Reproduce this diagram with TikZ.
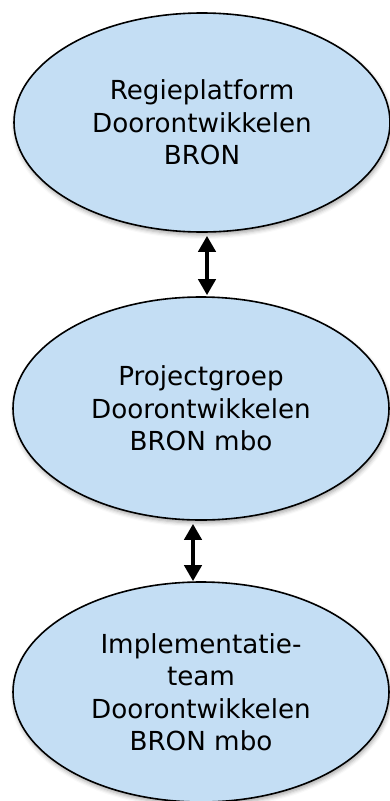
\documentclass[tikz,border=0pt]{standalone}
\usepackage{fontspec}
\setmainfont{DejaVu Sans}
\usetikzlibrary{shapes.geometric,arrows.meta,shadows.blur}
\definecolor{ellfill}{RGB}{196,222,244}
\tikzset{
  ell/.style={ellipse, draw=black, line width=1.6pt, fill=ellfill,
    inner sep=0pt, align=center, text=black,
    font=\fontsize{26.2}{32.5}\selectfont,
    blur shadow={shadow xshift=1pt, shadow yshift=-3pt, shadow blur radius=4pt, shadow opacity=35}},
  biarrow/.style={line width=4pt, {Triangle[width=17pt,length=16pt]}-{Triangle[width=17pt,length=16pt]}}
}
\begin{document}
\begin{tikzpicture}[x=1pt,y=-1pt]
\useasboundingbox (0,0) rectangle (390,801);
\node[ell, minimum width=376pt, minimum height=219pt] (e1) at (202,122.5)
  {Regieplatform\\Doorontwikkelen\\BRON};
\node[ell, minimum width=376pt, minimum height=223pt] (e2) at (201,408.5)
  {Projectgroep\\Doorontwikkelen\\BRON mbo};
\node[ell, minimum width=376pt, minimum height=220pt] (e3) at (201,692)
  {Implementatie-\\team\\Doorontwikkelen\\BRON mbo};
\draw[biarrow] ([xshift=5pt,yshift=-3pt]e1.south) -- ([xshift=6pt,yshift=1pt]e2.north);
\draw[biarrow] ([xshift=-8pt,yshift=-3pt]e2.south) -- ([xshift=-8pt,yshift=0pt]e3.north);
\end{tikzpicture}
\end{document}
